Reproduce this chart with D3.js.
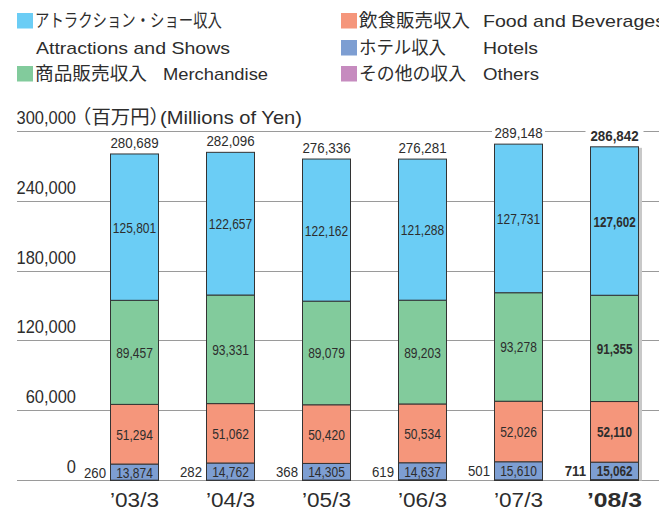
<!DOCTYPE html>
<html><head><meta charset="utf-8">
<script src="https://cdn.jsdelivr.net/npm/d3@7"></script>
<style>body{margin:0;background:#fff}svg{display:block}</style>
</head><body>
<svg id="c" width="659" height="512"></svg>
<script>
const categories = ["’03/3","’04/3","’05/3","’06/3","’07/3","’08/3"];
const others      = [260, 282, 368, 619, 501, 711];
const hotels      = [13874, 14762, 14305, 14637, 15610, 15062];
const food        = [51294, 51062, 50420, 50534, 52026, 52110];
const merchandise = [89457, 93331, 89079, 89203, 93278, 91355];
const attractions = [125801, 122657, 122162, 121288, 127731, 127602];
const totals      = [280689, 282096, 276336, 276281, 289148, 286842];
const yTicks      = [0, 60000, 120000, 180000, 240000, 300000];

const colors = {others:"#c68bbf", hotels:"#7d9ed2", food:"#f5967b", merchandise:"#82cb9c", attractions:"#6bcdf5"};
const SANS = "'Liberation Sans',Arial,sans-serif";
const JP = "'Noto Sans CJK JP','Noto Sans CJK SC',sans-serif";
const TXT = "#2d2d2d";

const svg = d3.select("#c");
const x = d3.scaleBand().domain(categories).range([86,662]).paddingInner(0.5).paddingOuter(0.25);
const y = d3.scaleLinear().domain([0,300000]).range([480.5,131.5]);
const py = v => Math.round(y(v)-0.5)+0.5;
const fmt = d3.format(",");

// text helper with horizontal scale
function st(g, tx, ty, str, o) {
  return g.append("text")
    .attr("transform", `translate(${tx},${ty}) scale(${o.sx||1},1)`)
    .attr("text-anchor", o.anchor||"start")
    .attr("font-family", o.font||SANS).attr("font-size", o.size)
    .attr("font-weight", o.bold?"bold":"normal")
    .attr("fill", TXT).text(str);
}

// gridlines
svg.append("g").selectAll("line").data(yTicks).join("line")
  .attr("x1",17).attr("x2",659).attr("y1",d=>py(d)).attr("y2",d=>py(d))
  .attr("stroke","#9a9a9a").attr("stroke-width",1);

// tick labels
const tk = svg.append("g");
yTicks.forEach(d=>st(tk, 76, py(d)-7.5, fmt(d), {size:17.5, anchor:"end", sx:0.94}));
// unit
svg.append("text").attr("x",72).attr("y",py(300000)-7.5).attr("font-family",JP).attr("font-size",19)
  .attr("fill",TXT).attr("textLength",97).attr("lengthAdjust","spacingAndGlyphs").text("（百万円）");
svg.append("text").attr("x",160).attr("y",py(300000)-7.5).attr("font-family",SANS).attr("font-size",18.5)
  .attr("fill",TXT).attr("textLength",142).attr("lengthAdjust","spacingAndGlyphs").text("(Millions of Yen)");

// stacked data
const keys = ["others","hotels","food","merchandise","attractions"];
const series = {others, hotels, food, merchandise, attractions};
const rows = categories.map((c,i)=>{const r={cat:c}; keys.forEach(k=>r[k]=series[k][i]); return r;});
const stacked = d3.stack().keys(keys)(rows);
const last = categories.length-1;
const topOf = i => y(stacked[stacked.length-1][i][1]);

// shadow for last bar
svg.append("rect").attr("x",x(categories[last])+2).attr("width",x.bandwidth()+2)
  .attr("y",topOf(last)+1).attr("height",y(0)-topOf(last)-1).attr("fill","#c8c8c8");

const bars = svg.append("g");
stacked.forEach(s=>{
  bars.append("g").selectAll("rect").data(s).join("rect")
    .attr("x",d=>x(d.data.cat)+0.5).attr("width",x.bandwidth())
    .attr("y",d=>y(d[1])).attr("height",d=>y(d[0])-y(d[1]))
    .attr("fill",colors[s.key]).attr("stroke","#333").attr("stroke-width",1);
});

// segment labels
const labKeys = ["hotels","food","merchandise","attractions"];
const lab = svg.append("g");
stacked.filter(s=>labKeys.includes(s.key)).forEach(s=>{
  s.forEach((d,i)=>{
    st(lab, x(d.data.cat)+x.bandwidth()/2+0.5, (y(d[0])+y(d[1]))/2+5.5, fmt(d.data[s.key]),
       {size:15, anchor:"middle", sx:i===last?0.78:0.8, bold:i===last});
  });
});
// others labels (left of bar)
const hs = stacked.find(s=>s.key==="hotels");
others.forEach((v,i)=>{
  st(lab, x(categories[i])-4, (y(hs[i][0])+y(hs[i][1]))/2+5.5, fmt(v),
     {size:15, anchor:"end", sx:0.88, bold:i===last});
});

// totals
const tg = svg.append("g");
totals.forEach((t,i)=>{
  const cx = x(categories[i])+x.bandwidth()/2+0.5, ty = topOf(i)-6;
  const w = (i===last?52:47);
  tg.append("rect").attr("x",cx-w/2-3).attr("y",ty-12).attr("width",w+6).attr("height",15).attr("fill","#fff");
  st(tg, cx, ty, fmt(t), {size:14.5, anchor:"middle", sx:0.92, bold:i===last});
});

// x labels
const xl = svg.append("g");
categories.forEach((c,i)=>{
  xl.append("text").attr("x",x(c)+x.bandwidth()/2+0.5-(i===last?27.5:24.5)).attr("y",507)
    .attr("font-family",SANS).attr("font-size",19.5).attr("font-weight",i===last?"bold":"normal")
    .attr("fill",TXT).attr("textLength",i===last?55:49).attr("lengthAdjust","spacingAndGlyphs").text(c);
});

// legend
const leg = svg.append("g");
const legendItems = [
  {k:"attractions", x:17, y:13, jp:"アトラクション・ショー収入", jpLen:187},
  {k:"merchandise", x:17, y:66, jp:"商品販売収入", jpLen:112, en:"Merchandise", enX:163, enLen:105},
  {k:"food", x:341, y:13, jp:"飲食販売収入", jpLen:111, en:"Food and Beverages", enX:483, enLen:182},
  {k:"hotels", x:341, y:40, jp:"ホテル収入", jpLen:87, en:"Hotels", enX:483, enLen:55},
  {k:"others", x:341, y:66, jp:"その他の収入", jpLen:107, en:"Others", enX:483, enLen:56}
];
legendItems.forEach(d=>{
  leg.append("rect").attr("x",d.x).attr("y",d.y).attr("width",16).attr("height",15.5).attr("fill",colors[d.k]);
  leg.append("text").attr("x",d.x+18).attr("y",d.y+14).attr("font-family",JP).attr("font-size",18)
    .attr("fill",TXT).attr("textLength",d.jpLen).attr("lengthAdjust","spacingAndGlyphs").text(d.jp);
  if (d.en) leg.append("text").attr("x",d.enX).attr("y",d.y+14.3).attr("font-family",SANS).attr("font-size",17)
    .attr("fill",TXT).attr("textLength",d.enLen).attr("lengthAdjust","spacingAndGlyphs").text(d.en);
});
leg.append("text").attr("x",36).attr("y",54).attr("font-family",SANS).attr("font-size",17)
  .attr("fill",TXT).attr("textLength",194).attr("lengthAdjust","spacingAndGlyphs").text("Attractions and Shows");
</script>
</body></html>
